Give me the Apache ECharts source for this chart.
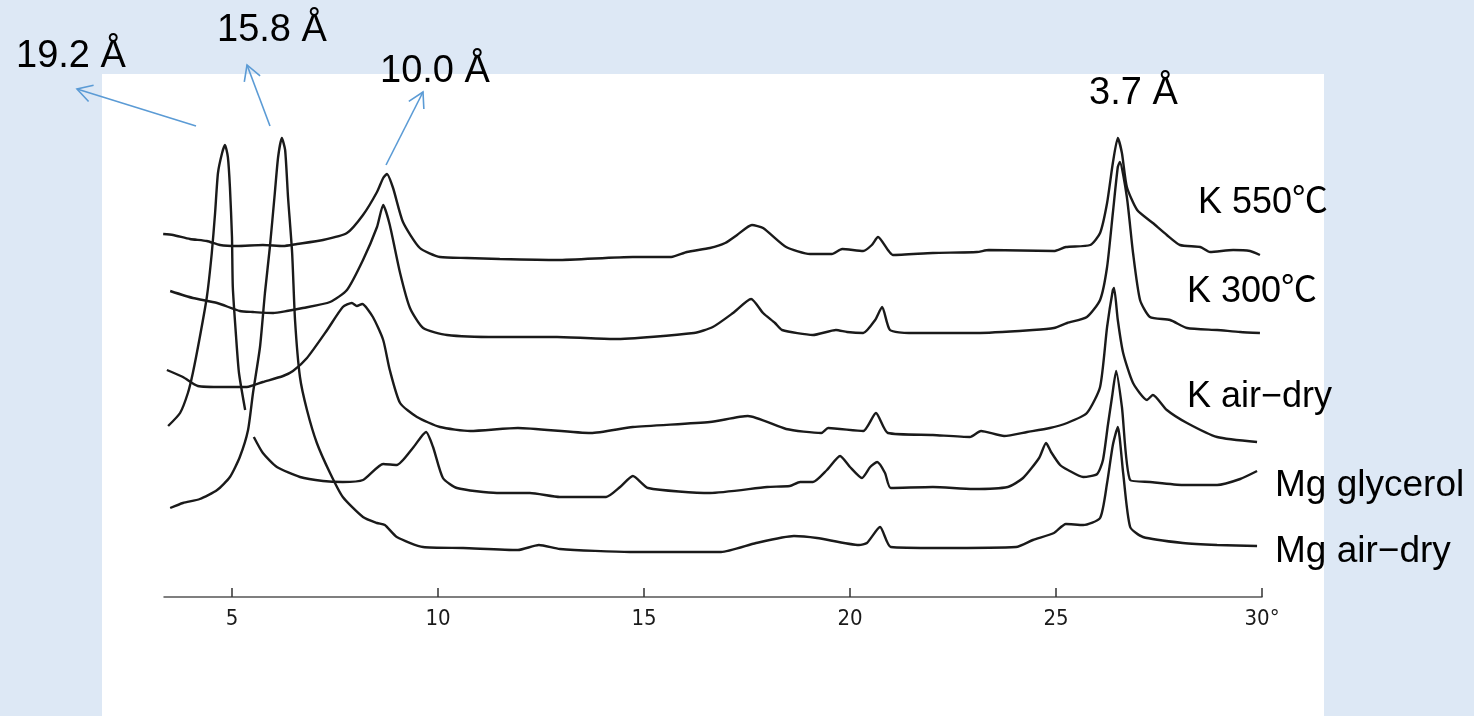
<!DOCTYPE html>
<html><head><meta charset="utf-8">
<script src="https://cdn.jsdelivr.net/npm/echarts@6/dist/echarts.min.js"></script>
<style>html,body{margin:0;padding:0;background:#dde8f5}#c{width:1474px;height:716px}</style>
</head><body><div id="c"></div>
<script>
// 2θ (degrees) tick labels
const tickValues = [5, 10, 15, 20, 25, 30];
const seriesNames = ['K 550℃', 'K 300℃', 'K air\u2212dry', 'Mg glycerol', 'Mg air\u2212dry'];
const peakLabels = ['19.2 Å', '15.8 Å', '10.0 Å', '3.7 Å'];

// [2θ, relative intensity incl. vertical offset]
const k550 = [[3.33,363],[3.57,362],[3.98,358],[4.39,356],[4.71,352],[5.12,351],[5.75,352],[6.24,351],[6.58,353],[7.21,357],[7.79,364],[8.18,382],[8.52,405],[8.67,419],[8.76,423],[8.91,409],[9.15,375],[9.56,349],[10.05,340],[10.70,339],[11.50,338],[12.89,337],[14.73,340],[15.66,340],[16.04,345],[16.60,349],[16.97,354],[17.26,362],[17.62,372],[17.89,369],[18.45,350],[19.03,343],[19.56,343],[19.81,348],[20.32,346],[20.53,352],[20.68,360],[20.92,347],[21.04,342],[22.01,344],[23.08,345],[23.37,347],[24.95,346],[25.24,350],[25.83,352],[26.07,364],[26.24,394],[26.38,434],[26.50,459],[26.60,444],[26.72,410],[26.97,387],[27.35,374],[27.69,362],[28.01,352],[28.50,350],[28.74,345],[29.30,347],[29.71,346],[29.95,342]];
const k300 = [[3.50,306],[4.05,299],[4.64,294],[5.19,286],[5.51,285],[6.00,284],[6.33,286],[6.72,289],[7.38,295],[7.79,307],[8.18,337],[8.52,370],[8.67,392],[8.83,372],[9.08,324],[9.32,289],[9.64,269],[10.22,262],[11.43,260],[12.89,260],[14.27,258],[16.21,264],[16.67,270],[17.16,284],[17.60,298],[17.89,284],[18.18,274],[18.35,267],[19.10,262],[19.66,267],[19.93,265],[20.32,264],[20.61,277],[20.78,290],[20.97,267],[21.43,264],[21.99,264],[23.08,264],[24.44,267],[24.95,269],[25.27,274],[25.75,280],[26.07,297],[26.24,330],[26.38,384],[26.50,430],[26.55,435],[26.72,400],[26.87,344],[27.04,297],[27.28,280],[27.77,277],[28.18,269],[28.91,267],[29.47,265],[29.95,264]];
const kAir = [[3.42,227],[3.81,220],[4.17,211],[4.78,210],[5.36,210],[5.75,215],[6.24,221],[6.48,226],[6.82,239],[7.31,267],[7.69,290],[7.91,294],[8.03,291],[8.16,293],[8.42,280],[8.67,257],[8.83,227],[9.08,194],[9.49,180],[10.05,170],[10.78,166],[11.94,169],[13.71,164],[14.73,170],[16.60,175],[17.52,181],[18.45,168],[19.30,164],[19.47,169],[20.32,166],[20.63,184],[20.92,164],[22.01,162],[22.91,160],[23.18,166],[23.74,161],[24.30,165],[24.85,169],[25.27,174],[25.75,184],[26.07,210],[26.24,270],[26.38,307],[26.41,309],[26.50,277],[26.63,244],[26.87,214],[27.21,197],[27.35,202],[27.69,187],[28.18,174],[28.91,160],[29.88,155]];
const mgGly = [[3.45,171],[3.74,184],[3.93,204],[4.05,224],[4.22,260],[4.39,300],[4.51,344],[4.59,384],[4.66,424],[4.76,444],[4.83,452],[4.90,440],[4.95,410],[5.00,360],[5.02,310],[5.10,260],[5.17,224],[5.32,187],null,[5.53,160],[5.75,144],[6.09,130],[6.65,120],[7.21,116],[7.69,115],[8.18,117],[8.67,133],[9.00,132],[9.39,149],[9.71,165],[9.88,150],[10.12,119],[10.46,109],[11.43,104],[12.23,104],[12.96,100],[14.08,100],[14.42,110],[14.73,121],[15.10,109],[16.60,104],[17.99,110],[18.54,111],[18.79,115],[19.10,115],[19.44,127],[19.76,141],[20.00,130],[20.29,119],[20.49,130],[20.66,135],[20.85,124],[20.99,109],[22.01,110],[22.99,108],[23.83,110],[24.20,119],[24.59,139],[24.76,154],[24.88,145],[25.10,132],[25.29,127],[25.66,120],[26.00,123],[26.14,137],[26.26,172],[26.36,200],[26.46,226],[26.60,190],[26.80,117],[27.28,115],[28.08,112],[28.91,112],[29.47,118],[29.88,126]];
const mgAir = [[3.50,89],[3.81,94],[4.22,98],[4.64,107],[4.95,120],[5.19,140],[5.39,167],[5.51,204],[5.68,250],[5.80,304],[5.92,350],[6.04,404],[6.12,440],[6.21,459],[6.29,447],[6.36,400],[6.46,344],[6.53,277],[6.65,220],[6.82,187],[7.06,154],[7.38,124],[7.69,100],[8.18,80],[8.52,74],[8.71,72],[9.00,60],[9.64,50],[10.61,49],[11.94,47],[12.45,52],[12.96,48],[14.66,45],[16.87,45],[17.72,54],[18.64,61],[19.20,59],[20.22,52],[20.41,54],[20.73,70],[20.99,50],[22.16,49],[24.03,50],[24.44,57],[24.95,64],[25.24,73],[25.66,72],[26.07,79],[26.24,114],[26.38,152],[26.50,170],[26.63,124],[26.80,70],[27.11,60],[28.08,54],[28.91,52],[29.88,51]];
const allSeries = [k550, k300, kAir, mgGly, mgAir];

const chart = echarts.init(document.getElementById('c'), null, {renderer: 'canvas'});
const textFont = "'Liberation Sans', Arial, 'Noto Sans CJK JP', sans-serif";
const blue = '#5b9bd5';

function arrow(x1, y1, x2, y2) {
  const a = Math.atan2(y1 - y2, x1 - x2), L = 17, w = 0.52;
  return [
    {type: 'line', silent: true, shape: {x1, y1, x2, y2}, style: {stroke: blue, lineWidth: 1.6}},
    {type: 'polyline', silent: true, shape: {points: [[x2 + L * Math.cos(a + w), y2 + L * Math.sin(a + w)], [x2, y2], [x2 + L * Math.cos(a - w), y2 + L * Math.sin(a - w)]]}, style: {stroke: blue, lineWidth: 1.6, fill: null}}
  ];
}
function txt(t, x, y, size) {
  return {type: 'text', silent: true, z: 10, style: {text: t, x, y, fill: '#000', fontSize: size, fontFamily: textFont, verticalAlign: 'middle', align: 'left'}};
}

const graphics = [
  {type: 'rect', silent: true, z: -10, shape: {x: 102, y: 74, width: 1222, height: 642}, style: {fill: '#ffffff'}},
  ...arrow(196, 126, 77, 89),
  ...arrow(270, 126, 247, 65),
  ...arrow(386, 165, 423, 92),
  txt(peakLabels[0], 16, 57, 38),
  txt(peakLabels[1], 217, 31, 38),
  txt(peakLabels[2], 380, 72, 38),
  txt(peakLabels[3], 1089, 94, 38),
  txt(seriesNames[0], 1198, 203, 36),
  txt(seriesNames[1], 1187, 292, 36),
  txt(seriesNames[2], 1187, 397, 36),
  txt(seriesNames[3], 1275, 486, 37),
  txt(seriesNames[4], 1275, 552, 37)
];

chart.setOption({
  animation: false,
  backgroundColor: '#dde8f5',
  grid: {left: 164, right: 212, top: 0, bottom: 119, containLabel: false},
  xAxis: {
    type: 'value', min: 3.35, max: 30,
    axisLine: {show: true, lineStyle: {color: '#555', width: 1.5}},
    axisTick: {show: true, inside: true, length: 9, customValues: tickValues, lineStyle: {color: '#333', width: 1.5}},
    axisLabel: {show: true, customValues: tickValues, margin: 11, color: '#1a1a1a', fontSize: 22,
      fontFamily: "'DejaVu Sans Condensed', 'DejaVu Sans', sans-serif",
      formatter: v => v === 30 ? '30°' : String(v)},
    splitLine: {show: false}
  },
  yAxis: {type: 'value', min: 0, max: 597, show: false, splitLine: {show: false}},
  graphic: graphics,
  series: allSeries.map((d, i) => ({
    name: seriesNames[i], type: 'line', data: d, showSymbol: false, smooth: 0.2,
    connectNulls: false, clip: false,
    lineStyle: {color: '#1a1a1a', width: 2.4}
  }))
});
</script></body></html>
